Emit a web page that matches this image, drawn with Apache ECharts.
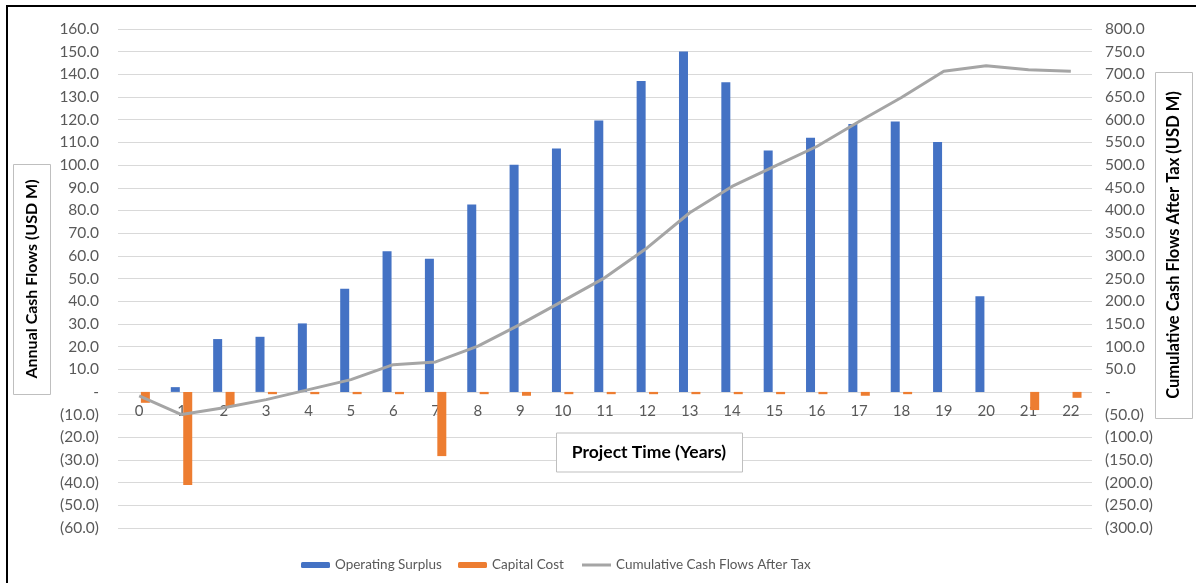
<!DOCTYPE html>
<html>
<head>
<meta charset="utf-8">
<script src="https://cdn.jsdelivr.net/npm/echarts@6/dist/echarts.min.js"></script>
<style>
  html, body { margin: 0; padding: 0; background: #fff; }
  #chart { width: 1196px; height: 583px; }
</style>
</head>
<body>
<div id="chart"></div>
<script>
// Project years
const years = ['0','1','2','3','4','5','6','7','8','9','10','11','12','13','14','15','16','17','18','19','20','21','22'];
// Annual cash flows, USD M (left axis)
const operatingSurplus = [0, 2.1, 23.3, 24.3, 30.2, 45.5, 62.0, 58.7, 82.6, 100.2, 107.3, 119.7, 137.1, 150.1, 136.5, 106.4, 112.0, 118.1, 119.2, 110.2, 42.2, 0, 0];
const capitalCost = [-4.8, -41.0, -6.6, -1.0, -1.0, -1.0, -1.0, -28.3, -1.0, -1.7, -1.0, -1.0, -1.0, -1.0, -1.0, -1.0, -1.0, -1.7, -1.0, 0, 0, -8.0, -2.6];
// Cumulative cash flows after tax, USD M (right axis)
const cumulativeAfterTax = [-9, -50, -35, -17, 5, 27, 60, 66, 101, 149, 200, 252, 318, 395, 453, 497, 541, 596, 649, 707, 719, 710, 707];

const seriesNames = ['Operating Surplus', 'Capital Cost', 'Cumulative Cash Flows After Tax'];
const leftAxisTitle = 'Annual Cash Flows (USD M)';
const rightAxisTitle = 'Cumulative Cash Flows After Tax (USD M)';
const xAxisTitle = 'Project Time (Years)';

const FONT = 'Lato';
const GREY_TEXT = '#595959';
const GRID_LINE = '#D9D9D9';

// plot area
const GRID_TOP = 29, GRID_BOTTOM = 55, CHART_H = 583;
const LEFT_MIN = -60, LEFT_MAX = 160;

// Accounting-style number format: 12.0, -, (12.0)
function acct(v) {
  if (Math.abs(v) < 1e-9) return '-';
  return v < 0 ? '(' + Math.abs(v).toFixed(1) + ')' : v.toFixed(1);
}

// the category labels sit just under the zero line of the value axis
const plotH = CHART_H - GRID_TOP - GRID_BOTTOM;
const zeroFromBottom = plotH * (0 - LEFT_MIN) / (LEFT_MAX - LEFT_MIN);

const chart = echarts.init(document.getElementById('chart'), null, { renderer: 'canvas' });

function titleBox(cx, cy, w, h, text, rotate, size) {
  return {
    type: 'group',
    children: [
      {
        type: 'rect',
        shape: { x: cx - w / 2 + 0.5, y: cy - h / 2 + 0.5, width: w, height: h },
        style: { fill: '#fff', stroke: '#BFBFBF', lineWidth: 1 },
        z: 10
      },
      {
        type: 'text',
        x: cx, y: cy,
        rotation: rotate ? Math.PI / 2 : 0,
        style: {
          text: text,
          fill: '#000',
          font: 'bold ' + size + 'px ' + FONT,
          textAlign: 'center',
          textVerticalAlign: 'middle'
        },
        z: 11
      }
    ]
  };
}

const legendText = { fontSize: 13.5, color: GREY_TEXT, fontFamily: FONT };
const legendBase = { top: 558, itemWidth: 29, itemHeight: 6, textStyle: legendText, padding: 0 };

chart.setOption({
  animation: false,
  backgroundColor: '#fff',
  textStyle: { fontFamily: FONT },
  grid: { left: 118, right: 104, top: GRID_TOP, bottom: GRID_BOTTOM, containLabel: false },
  legend: [
    Object.assign({ left: 301, data: [seriesNames[0]] }, legendBase),
    Object.assign({ left: 458, data: [seriesNames[1]] }, legendBase),
    Object.assign({ left: 582, data: [{ name: seriesNames[2], icon: 'path://M0,0H29V3H0Z' }] }, legendBase)
  ],
  xAxis: {
    type: 'category',
    data: years,
    boundaryGap: true,
    position: 'bottom',
    offset: -zeroFromBottom,
    axisLine: { show: false, onZero: false },
    axisTick: { show: false },
    axisLabel: { color: GREY_TEXT, fontSize: 15, margin: 12, fontFamily: FONT },
    splitLine: { show: false }
  },
  yAxis: [
    {
      type: 'value',
      min: LEFT_MIN, max: LEFT_MAX, interval: 10,
      axisLine: { show: false },
      axisTick: { show: false },
      axisLabel: { color: GREY_TEXT, fontSize: 15.5, margin: 19, fontFamily: FONT, formatter: acct },
      splitLine: { lineStyle: { color: GRID_LINE, width: 1 } }
    },
    {
      type: 'value',
      min: -300, max: 800, interval: 50,
      axisLine: { show: false },
      axisTick: { show: false },
      axisLabel: { color: GREY_TEXT, fontSize: 15.5, margin: 13, fontFamily: FONT, formatter: acct },
      splitLine: { show: false }
    }
  ],
  series: [
    {
      name: seriesNames[0],
      type: 'bar',
      data: operatingSurplus,
      yAxisIndex: 0,
      barWidth: 9,
      barGap: '38%',
      itemStyle: { color: '#4472C4' },
      z: 2
    },
    {
      name: seriesNames[1],
      type: 'bar',
      data: capitalCost,
      yAxisIndex: 0,
      barWidth: 9,
      barGap: '38%',
      itemStyle: { color: '#ED7D31' },
      z: 2
    },
    {
      name: seriesNames[2],
      type: 'line',
      data: cumulativeAfterTax,
      yAxisIndex: 1,
      symbol: 'none',
      lineStyle: { color: '#A5A5A5', width: 3 },
      itemStyle: { color: '#A5A5A5' },
      z: 3
    }
  ],
  graphic: [
    // frame along the top and left edges
    {
      type: 'rect',
      shape: { x: 7, y: 6, width: 1400, height: 800 },
      style: { fill: null, stroke: '#000', lineWidth: 2 },
      z: 20,
      silent: true
    },
    titleBox(31.5, 279, 37, 230, leftAxisTitle, true, 16),
    titleBox(1173.5, 245, 37, 346, rightAxisTitle, true, 16.5),
    titleBox(649, 452, 186, 39, xAxisTitle, false, 17.5)
  ]
});
</script>
</body>
</html>
